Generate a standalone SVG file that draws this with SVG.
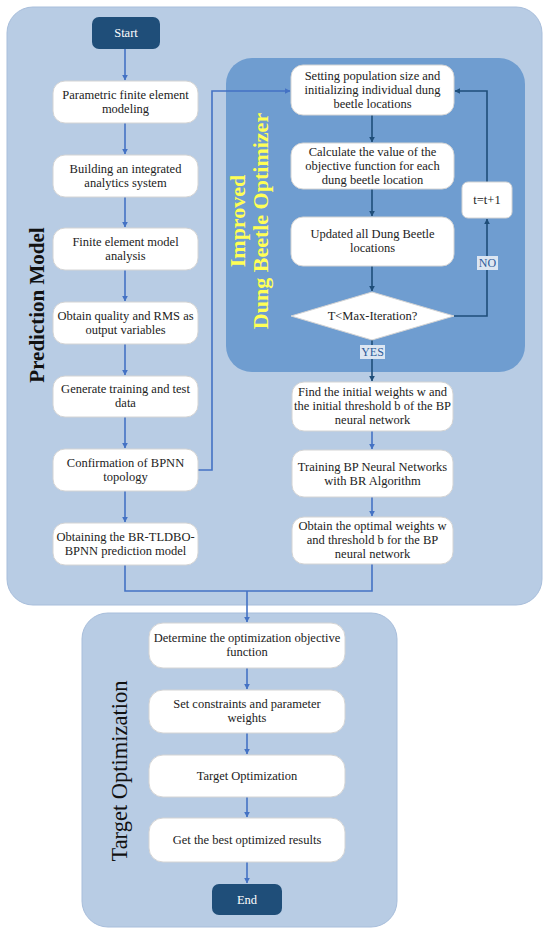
<svg xmlns="http://www.w3.org/2000/svg" width="550" height="933" viewBox="0 0 550 933">
<defs>
<style>
.panel{fill:#b8cce4;stroke:#a8bedb;stroke-width:1}
.inner{fill:#6f9dd0}
.box{fill:#ffffff;stroke:#d4d4d4;stroke-width:1}
.term{fill:#1f4e79}
.t{font-family:"Liberation Serif",serif;font-size:12.5px;fill:#222222;text-anchor:middle}
.tw{font-family:"Liberation Serif",serif;font-size:12.5px;fill:#ffffff;text-anchor:middle}
.lab{font-family:"Liberation Serif",serif;font-size:12px;fill:#2e5c9a;text-anchor:middle}
.big{font-family:"Liberation Serif",serif;fill:#111111;text-anchor:middle}
.yel{font-family:"Liberation Serif",serif;font-weight:bold;font-size:22px;fill:#ffff55;text-anchor:middle}
.cb{fill:none;stroke:#4472c4;stroke-width:1.6}
.cn{fill:none;stroke:#1f4e79;stroke-width:1.6}
</style>
<marker id="ab" viewBox="0 0 10 10" refX="9" refY="5" markerWidth="6" markerHeight="6" orient="auto" markerUnits="userSpaceOnUse"><path d="M0,0 L10,5 L0,10 z" fill="#4472c4"/></marker>
<marker id="an" viewBox="0 0 10 10" refX="9" refY="5" markerWidth="6" markerHeight="6" orient="auto" markerUnits="userSpaceOnUse"><path d="M0,0 L10,5 L0,10 z" fill="#1f4e79"/></marker>
</defs>

<g id="panel-prediction">
<rect class="panel" x="7" y="7" width="535" height="598" rx="26"/>
<text class="big" font-weight="bold" font-size="21" transform="translate(44,305) rotate(-90)">Prediction Model</text>
</g>
<g id="panel-idbo">
<rect class="inner" x="226" y="58" width="299" height="314" rx="26"/>
<text class="yel" transform="translate(245,221) rotate(-90)">Improved</text>
<text class="yel" transform="translate(268,221) rotate(-90)">Dung Beetle Optimizer</text>
</g>
<g id="panel-target">
<rect class="panel" x="82" y="613" width="315" height="314" rx="26"/>
<text class="big" font-size="22.5" transform="translate(127,771) rotate(-90)">Target Optimization</text>
</g>

<g id="connectors">
<path class="cb" d="M125,49 V80" marker-end="url(#ab)"/>
<path class="cb" d="M125,123 V154" marker-end="url(#ab)"/>
<path class="cb" d="M125,197 V227" marker-end="url(#ab)"/>
<path class="cb" d="M125,270 V301" marker-end="url(#ab)"/>
<path class="cb" d="M125,344 V375" marker-end="url(#ab)"/>
<path class="cb" d="M125,417 V448" marker-end="url(#ab)"/>
<path class="cb" d="M125,491 V522" marker-end="url(#ab)"/>
<path class="cb" d="M198,470 H212 V91 H290" marker-end="url(#ab)"/>
<path class="cn" d="M372,115 V142" marker-end="url(#an)"/>
<path class="cn" d="M372,189 V216" marker-end="url(#an)"/>
<path class="cn" d="M372,266 V291" marker-end="url(#an)"/>
<path class="cn" d="M454,316 H487 V219" marker-end="url(#an)"/>
<path class="cn" d="M487,182 V91 H455" marker-end="url(#an)"/>
<path class="cn" d="M372,340 V381" marker-end="url(#an)"/>
<path class="cb" d="M372,431 V449" marker-end="url(#ab)"/>
<path class="cb" d="M372,497 V516" marker-end="url(#ab)"/>
<path class="cb" d="M125,565 V591 H372 V564"/>
<path class="cb" d="M247,591 V622" marker-end="url(#ab)"/>
<path class="cb" d="M247,668 V689" marker-end="url(#ab)"/>
<path class="cb" d="M247,733 V754" marker-end="url(#ab)"/>
<path class="cb" d="M247,797 V817" marker-end="url(#ab)"/>
<path class="cb" d="M247,862 V883" marker-end="url(#ab)"/>
<g id="label-no"><rect x="477" y="256" width="21" height="14" fill="#dce6f2"/><text class="lab" x="487.5" y="267">NO</text></g>
<g id="label-yes"><rect x="360" y="345" width="25" height="14" fill="#dce6f2"/><text class="lab" x="372.5" y="356">YES</text></g>
</g>

<g id="start"><rect class="term" x="92" y="17" width="68" height="32" rx="7"/><text class="tw" x="126" y="37">Start</text></g>

<g id="n1"><rect class="box" x="53" y="81" width="145" height="42" rx="12"/><text class="t" x="125.5" y="99">Parametric finite element</text><text class="t" x="125.5" y="113">modeling</text></g>
<g id="n2"><rect class="box" x="53" y="155" width="145" height="42" rx="12"/><text class="t" x="125.5" y="173">Building an integrated</text><text class="t" x="125.5" y="187">analytics system</text></g>
<g id="n3"><rect class="box" x="53" y="228" width="145" height="42" rx="12"/><text class="t" x="125.5" y="246">Finite element model</text><text class="t" x="125.5" y="260">analysis</text></g>
<g id="n4"><rect class="box" x="53" y="302" width="145" height="42" rx="12"/><text class="t" x="125.5" y="320">Obtain quality and RMS as</text><text class="t" x="125.5" y="334">output variables</text></g>
<g id="n5"><rect class="box" x="53" y="376" width="145" height="41" rx="12"/><text class="t" x="125.5" y="393">Generate training and test</text><text class="t" x="125.5" y="407">data</text></g>
<g id="n6"><rect class="box" x="53" y="449" width="145" height="42" rx="12"/><text class="t" x="125.5" y="467">Confirmation of BPNN</text><text class="t" x="125.5" y="481">topology</text></g>
<g id="n7"><rect class="box" x="53" y="523" width="145" height="42" rx="12"/><text class="t" x="125.5" y="541">Obtaining the BR-TLDBO-</text><text class="t" x="125.5" y="555">BPNN prediction model</text></g>

<g id="a1"><rect class="box" x="291" y="65" width="163" height="50" rx="12"/><text class="t" x="372.5" y="80">Setting population size and</text><text class="t" x="372.5" y="94">initializing individual dung</text><text class="t" x="372.5" y="108">beetle locations</text></g>
<g id="a2"><rect class="box" x="291" y="143" width="163" height="46" rx="12"/><text class="t" x="372.5" y="156">Calculate the value of the</text><text class="t" x="372.5" y="170">objective function for each</text><text class="t" x="372.5" y="184">dung beetle location</text></g>
<g id="a3"><rect class="box" x="291" y="217" width="163" height="49" rx="12"/><text class="t" x="372.5" y="238">Updated all Dung Beetle</text><text class="t" x="372.5" y="252">locations</text></g>
<g id="dec"><polygon class="box" points="291,316 372,292 454,316 372,340"/><text class="t" x="372.5" y="320">T&lt;Max-Iteration?</text></g>
<g id="tinc"><rect class="box" x="462" y="182" width="50" height="36" rx="6"/><text class="t" font-size="11.5" x="487" y="204">t=t+1</text></g>

<g id="b1"><rect class="box" x="292" y="382" width="161" height="49" rx="12"/><text class="t" x="372.5" y="396">Find the initial weights w and</text><text class="t" x="372.5" y="410">the initial threshold b of the BP</text><text class="t" x="372.5" y="424">neural network</text></g>
<g id="b2"><rect class="box" x="292" y="450" width="161" height="47" rx="12"/><text class="t" x="372.5" y="471">Training BP Neural Networks</text><text class="t" x="372.5" y="485">with BR Algorithm</text></g>
<g id="b3"><rect class="box" x="292" y="517" width="161" height="47" rx="12"/><text class="t" x="372.5" y="530">Obtain the optimal weights w</text><text class="t" x="372.5" y="544">and threshold b for the BP</text><text class="t" x="372.5" y="558">neural network</text></g>

<g id="c1"><rect class="box" x="149" y="623" width="196" height="45" rx="14"/><text class="t" x="247" y="642">Determine the optimization objective</text><text class="t" x="247" y="656">function</text></g>
<g id="c2"><rect class="box" x="149" y="690" width="196" height="43" rx="14"/><text class="t" x="247" y="708">Set constraints and parameter</text><text class="t" x="247" y="722">weights</text></g>
<g id="c3"><rect class="box" x="149" y="755" width="196" height="42" rx="14"/><text class="t" x="247" y="780">Target Optimization</text></g>
<g id="c4"><rect class="box" x="149" y="818" width="196" height="44" rx="14"/><text class="t" x="247" y="844">Get the best optimized results</text></g>
<g id="end"><rect class="term" x="212" y="884" width="70" height="31" rx="7"/><text class="tw" x="247" y="904">End</text></g>
</svg>
